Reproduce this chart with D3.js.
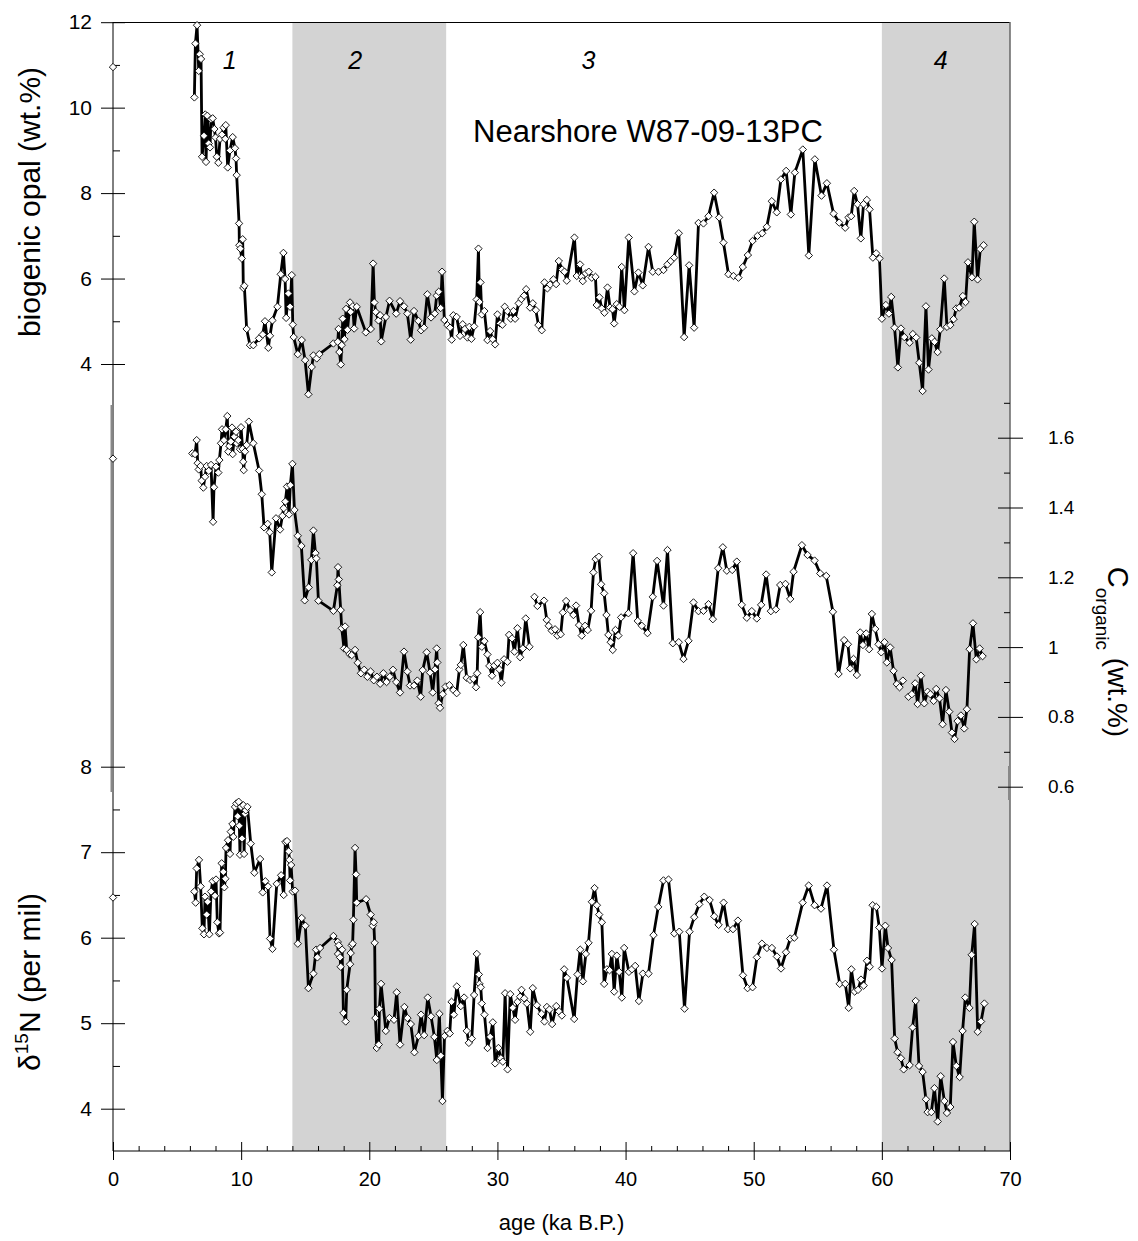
<!DOCTYPE html>
<html>
<head>
<meta charset="utf-8">
<script src="https://cdnjs.cloudflare.com/ajax/libs/d3/7.8.5/d3.min.js"></script>
<style>
  body { margin: 0; background: #fff; }
  text { font-family: "Liberation Sans", Arial, Helvetica, sans-serif; }
</style>
</head>
<body>
<svg id="chart" width="1138" height="1241"></svg>
<script>
// ---- data (age in ka B.P., value) ----
// null values break the line
const opalTop = [[0, 10.95]];
const opal = [
  [6.35,10.24],[6.43,11.50],[6.56,11.93],[6.69,10.86],[6.77,11.25],[6.87,11.14],[6.95,8.85],[7.10,9.34],
  [7.20,9.84],[7.26,8.73],[7.36,9.81],[7.47,9.16],[7.57,9.07],[7.65,9.73],[7.78,9.75],[7.91,9.50],
  [8.00,9.30],[8.10,8.85],[8.22,8.71],[8.35,9.27],[8.50,9.37],[8.63,9.53],[8.76,9.27],[8.80,9.59],
  [8.95,8.60],[9.13,9.00],[9.34,9.31],[9.52,9.05],[9.60,8.81],[9.65,8.42],[9.84,7.29],[9.86,6.78],
  [9.94,6.70],[10.05,6.47],[10.12,6.92],[10.17,5.78],[10.25,5.83],[10.43,4.82],[10.69,4.44],[10.95,4.44],
  [11.40,4.60],[11.68,4.69],[11.86,5.00],[12.12,4.38],[12.25,4.66],[12.44,5.02],[12.83,5.34],[13.09,6.10],
  [13.30,6.60],[13.43,5.99],[13.51,5.08],[13.69,5.65],[13.82,5.34],[13.95,6.08],[14.03,4.92],[14.10,4.63],
  [14.42,4.23],[14.73,4.56],[14.99,4.09],[15.25,3.29],[15.51,3.93],[15.64,4.20],[15.90,4.13],[16.10,4.23],
  [17.20,4.48],[17.54,4.52],[17.60,4.82],[17.67,4.28],[17.78,3.99],[17.85,4.44],[17.93,5.06],[18.06,4.58],
  [18.19,5.29],[18.30,4.80],[18.50,5.44],[18.55,5.22],[18.71,5.35],[18.82,4.83],[19.02,5.34],[19.73,4.74],
  [20.12,4.82],[20.30,6.35],[20.40,5.44],[20.50,5.22],[20.72,5.02],[20.85,5.14],[20.93,4.53],[21.30,5.10],
  [21.58,5.48],[22.10,5.18],[22.40,5.47],[22.71,5.35],[22.97,5.18],[23.23,4.57],[23.49,5.24],[23.83,5.01],
  [24.04,4.79],[24.27,4.85],[24.53,5.63],[24.82,5.09],[25.11,5.18],[25.26,5.60],[25.42,5.69],[25.57,5.31],
  [25.68,6.16],[25.86,5.03],[26.10,4.91],[26.30,4.85],[26.43,4.57],[26.56,5.14],[26.82,5.10],[27.08,4.66],
  [27.29,4.93],[27.47,4.82],[27.66,4.62],[27.81,4.87],[27.97,4.59],[28.18,4.88],[28.38,5.51],[28.52,6.70],
  [28.60,5.45],[28.68,5.91],[28.78,5.16],[28.98,5.24],[29.22,4.56],[29.43,4.77],[29.63,4.58],[29.82,4.46],
  [30.00,5.16],[30.21,4.95],[30.39,4.92],[30.57,5.34],[30.78,5.24],[31.04,5.06],[31.25,5.24],[31.38,5.06],
  [31.66,5.42],[31.87,5.52],[32.08,5.60],[32.24,5.75],[32.55,5.32],[32.76,5.42],[33.00,5.26],[33.20,4.91],
  [33.46,4.79],[33.67,5.91],[33.90,5.77],[34.11,5.86],[34.37,5.98],[34.58,5.87],[34.79,6.41],[35.05,6.21],
  [35.23,6.16],[35.41,5.95],[36.01,6.96],[36.19,6.06],[36.45,6.33],[36.58,6.04],[36.66,5.94],[36.89,6.12],
  [37.13,6.16],[37.36,6.02],[37.65,6.04],[37.75,5.38],[37.96,5.56],[38.14,5.30],[38.35,5.20],[38.59,5.79],
  [38.79,5.32],[38.98,5.28],[39.11,4.95],[39.31,5.40],[39.52,5.34],[39.70,6.27],[39.91,5.26],[40.25,6.96],
  [40.69,5.70],[41.00,6.14],[41.34,5.84],[41.79,6.74],[42.12,6.16],[42.57,6.16],[42.96,6.20],[43.27,6.33],
  [43.53,6.41],[43.79,6.49],[44.15,7.06],[44.57,4.63],[44.96,6.31],[45.35,4.85],[45.69,7.30],[46.08,7.29],
  [46.47,7.46],[46.91,8.01],[47.30,7.43],[47.64,6.84],[48.03,6.10],[48.42,6.06],[48.81,6.02],[49.15,6.27],
  [49.54,6.55],[49.91,6.88],[50.30,7.00],[50.66,7.06],[51.02,7.21],[51.41,7.81],[51.80,7.55],[52.12,8.32],
  [52.53,8.52],[52.90,7.50],[53.21,8.48],[53.83,9.02],[54.30,6.54],[54.77,8.79],[55.29,7.94],[55.71,8.23],
  [56.23,7.52],[56.67,7.31],[57.14,7.19],[57.40,7.43],[57.61,7.46],[57.84,8.05],[58.10,7.74],[58.36,6.94],
  [58.57,7.74],[58.83,7.84],[59.04,7.62],[59.30,6.49],[59.56,6.59],[59.82,6.47],[60.00,5.06],[60.31,5.38],
  [60.55,5.18],[60.73,5.57],[60.99,4.85],[61.25,3.92],[61.49,4.83],[61.75,4.63],[62.16,4.50],[62.42,4.70],
  [62.68,4.62],[62.92,4.03],[63.18,3.37],[63.44,5.35],[63.64,3.87],[63.90,4.60],[64.11,4.52],[64.35,4.28],
  [64.56,4.81],[64.87,6.00],[65.08,4.87],[65.34,4.91],[65.60,5.05],[65.80,5.30],[66.04,5.32],[66.32,5.59],
  [66.53,5.45],[66.72,6.38],[67.03,6.03],[67.21,7.33],[67.47,5.98],[67.68,6.69],[67.94,6.78]
];

const corgTop = [[0, 1.54]];
const corg = [
  [6.19,1.555],[6.40,1.553],[6.53,1.593],[6.61,1.527],[6.69,1.509],[6.84,1.519],[6.92,1.477],[7.05,1.457],
  [7.18,1.488],[7.31,1.519],[7.47,1.505],[7.65,1.522],[7.81,1.359],[7.88,1.458],[8.04,1.517],[8.22,1.500],
  [8.30,1.536],[8.43,1.584],[8.51,1.624],[8.66,1.593],[8.80,1.624],[8.92,1.662],[9.00,1.560],[9.08,1.576],
  [9.19,1.589],[9.29,1.629],[9.34,1.553],[9.47,1.603],[9.60,1.617],[9.65,1.584],[9.78,1.593],[9.91,1.567],
  [9.99,1.630],[10.12,1.568],[10.16,1.531],[10.20,1.507],[10.30,1.560],[10.43,1.579],[10.60,1.646],[10.95,1.584],
  [11.40,1.506],[11.61,1.438],[11.79,1.343],[12.07,1.353],[12.23,1.329],[12.39,1.214],[12.72,1.369],[13.04,1.337],
  [13.22,1.376],[13.32,1.398],[13.45,1.417],[13.58,1.460],[13.74,1.380],[13.84,1.464],[14.00,1.525],[14.16,1.393],
  [14.42,1.319],[14.70,1.290],[14.96,1.134],[15.27,1.171],[15.48,1.250],[15.64,1.334],[15.80,1.269],[15.87,1.254],
  [16.03,1.133],[17.20,1.104],[17.51,1.177],[17.56,1.229],[17.62,1.194],[17.77,1.106],[17.85,1.054],[18.03,0.996],
  [18.11,1.059],[18.24,0.992],[18.45,0.980],[18.63,0.977],[18.89,0.992],[19.10,0.955],[19.35,0.925],[19.60,0.935],
  [19.85,0.915],[20.10,0.930],[20.35,0.905],[20.60,0.915],[20.85,0.895],[21.10,0.925],[21.35,0.900],[21.60,0.915],
  [21.85,0.935],[22.10,0.900],[22.40,0.870],[22.71,0.987],[22.97,0.930],[23.18,0.890],[23.49,0.890],[23.75,0.904],
  [24.01,0.858],[24.17,0.934],[24.48,0.985],[24.74,0.927],[24.95,0.870],[25.13,0.936],[25.26,0.996],[25.31,0.956],
  [25.42,0.839],[25.52,0.826],[25.73,0.865],[25.96,0.887],[26.25,0.891],[26.56,0.877],[26.82,0.868],[27.03,0.936],
  [27.14,0.949],[27.34,1.006],[27.60,0.912],[27.86,0.906],[28.12,0.909],[28.33,0.885],[28.42,0.925],[28.50,1.028],
  [28.65,1.100],[28.78,1.001],[28.98,1.017],[29.22,0.979],[29.37,0.946],[29.58,0.918],[29.76,0.947],[30.00,0.955],
  [30.15,0.936],[30.31,0.898],[30.52,0.965],[30.78,0.958],[30.91,1.035],[31.14,1.025],[31.33,0.987],[31.56,1.054],
  [31.77,0.971],[31.98,0.996],[32.21,1.082],[32.50,1.001],[32.70,null],
  [32.89,1.144],[33.12,1.118],[33.64,1.133],[33.85,1.078],[34.00,1.061],[34.24,1.047],[34.50,1.051],[34.68,1.033],
  [34.94,1.037],[35.10,1.099],[35.36,1.132],[35.67,1.106],[35.93,1.092],[36.14,1.119],[36.37,1.063],[36.58,1.033],
  [36.84,1.061],[37.05,1.049],[37.31,1.104],[37.49,1.214],[37.67,1.252],[37.91,1.259],[38.09,1.180],[38.33,1.154],
  [38.51,1.092],[38.66,1.035],[38.84,1.014],[39.00,0.992],[39.21,1.049],[39.44,1.033],[39.65,1.085],[40.22,1.097],
  [40.59,1.269],[40.95,1.075],[41.27,1.061],[41.71,1.040],[42.12,1.144],[42.46,1.247],[42.96,1.119],[43.27,1.278],
  [43.69,1.011],[44.15,1.014],[44.52,0.966],[44.91,1.018],[45.30,1.128],[45.69,1.103],[46.08,1.104],[46.47,1.123],
  [46.81,1.080],[47.23,1.226],[47.59,1.286],[47.90,1.219],[48.32,1.221],[48.68,1.245],[49.07,1.121],[49.46,1.084],
  [49.85,1.103],[50.24,1.082],[50.58,1.121],[50.97,1.208],[51.34,1.103],[51.73,1.108],[52.07,1.178],[52.48,1.181],
  [52.85,1.138],[53.11,1.216],[53.76,1.292],[54.20,1.264],[54.75,1.248],[55.19,1.211],[55.66,1.204],[56.18,1.101],
  [56.62,0.923],[57.06,1.020],[57.35,1.008],[57.53,0.939],[57.79,0.966],[58.05,0.920],[58.31,1.042],[58.52,1.006],
  [58.78,1.039],[59.01,0.994],[59.22,1.095],[59.48,1.052],[59.74,1.008],[59.95,0.985],[60.21,1.014],[60.39,0.956],
  [60.65,0.999],[60.91,0.932],[61.17,0.894],[61.38,0.885],[61.64,0.904],[61.86,null],
  [62.08,0.858],[62.34,0.865],[62.60,0.896],[62.79,0.837],[63.05,0.918],[63.31,0.839],[63.57,0.872],[63.78,0.865],
  [64.04,0.846],[64.24,0.880],[64.50,0.853],[64.74,0.779],[65.00,0.877],[65.26,0.815],[65.47,0.755],[65.67,0.737],
  [65.91,0.788],[66.17,0.804],[66.43,0.767],[66.64,0.822],[66.85,0.994],[67.11,1.068],[67.37,0.965],[67.63,0.996],
  [67.86,0.974]
];

const d15nTop = [[0, 6.47]];
const d15n = [
  [6.35,6.54],[6.45,6.41],[6.53,6.81],[6.71,6.91],[6.84,6.60],[6.97,6.11],[7.10,6.04],[7.18,6.48],
  [7.31,6.27],[7.39,6.42],[7.52,6.04],[7.65,6.54],[7.78,6.66],[7.96,6.49],[8.04,6.68],[8.14,6.18],
  [8.27,6.05],[8.35,6.06],[8.48,6.87],[8.61,6.77],[8.69,6.59],[8.77,6.69],[8.82,7.05],[8.98,7.14],
  [9.13,6.98],[9.19,7.24],[9.32,7.33],[9.39,7.18],[9.52,7.53],[9.63,7.57],[9.73,7.42],[9.81,7.59],
  [9.86,7.31],[9.91,6.97],[9.99,7.53],[10.07,7.16],[10.17,7.55],[10.23,6.98],[10.30,7.45],[10.36,7.49],
  [10.49,7.53],[10.75,7.10],[11.03,6.76],[11.48,6.92],[11.68,6.53],[11.89,6.66],[12.10,6.60],[12.26,5.99],
  [12.44,5.87],[12.78,6.63],[13.12,6.73],[13.32,6.50],[13.45,7.12],[13.58,7.13],[13.71,7.01],[13.77,6.91],
  [13.82,6.67],[13.90,6.85],[14.02,6.54],[14.21,6.55],[14.42,5.93],[14.73,6.23],[15.01,6.14],[15.25,5.41],
  [15.64,5.58],[15.85,5.86],[15.95,5.77],[16.16,5.88],[17.20,6.02],[17.54,5.95],[17.56,5.81],[17.62,5.91],
  [17.72,5.77],[17.77,5.66],[17.88,5.86],[17.98,5.12],[18.16,5.02],[18.24,5.39],[18.50,5.69],[18.55,5.82],
  [18.63,5.91],[18.70,5.93],[18.76,6.21],[18.89,7.05],[18.97,6.74],[19.02,6.41],[19.75,6.45],[20.11,6.27],
  [20.27,6.14],[20.35,6.18],[20.42,5.94],[20.48,5.06],[20.58,4.71],[20.74,4.75],[20.79,5.17],[20.92,5.46],
  [21.29,4.91],[21.57,5.06],[21.93,5.04],[22.14,5.36],[22.40,4.75],[22.74,5.19],[22.98,5.06],[23.24,4.99],
  [23.52,4.66],[23.84,4.85],[24.04,5.10],[24.28,4.86],[24.56,5.30],[24.82,5.08],[25.08,4.84],[25.27,4.57],
  [25.47,5.11],[25.58,4.62],[25.71,4.09],[25.87,4.85],[26.10,4.91],[26.28,4.88],[26.42,5.25],[26.60,5.10],
  [26.83,5.43],[27.14,5.20],[27.40,5.30],[27.61,4.91],[27.77,4.77],[28.00,4.82],[28.18,5.33],[28.39,5.81],
  [28.55,5.57],[28.60,5.46],[28.70,5.42],[28.78,5.23],[28.99,5.10],[29.23,4.71],[29.43,4.84],[29.64,5.01],
  [29.82,4.53],[30.08,4.71],[30.27,4.59],[30.42,4.55],[30.60,5.35],[30.79,4.46],[31.00,5.34],[31.20,5.18],
  [31.38,5.04],[31.57,5.25],[31.77,5.31],[31.88,5.39],[32.09,5.29],[32.30,5.23],[32.56,4.90],[32.76,5.41],
  [33.08,5.21],[33.44,5.11],[33.67,5.02],[33.86,5.19],[34.06,5.16],[34.27,4.99],[34.59,5.20],[34.80,5.14],
  [35.03,5.09],[35.21,5.63],[35.42,5.53],[35.99,5.05],[36.25,5.57],[36.46,5.86],[36.67,5.49],[36.90,5.81],
  [37.11,5.94],[37.37,6.42],[37.58,6.58],[37.76,6.38],[37.94,6.27],[38.15,6.18],[38.33,5.46],[38.54,5.63],
  [38.75,5.62],[38.93,5.81],[39.11,5.37],[39.32,5.79],[39.50,5.60],[39.71,5.30],[39.89,5.88],[40.26,5.60],
  [40.49,5.63],[40.75,5.67],[41.04,5.26],[41.35,5.58],[41.79,5.58],[42.18,6.03],[42.55,6.36],[42.96,6.67],
  [43.35,6.68],[43.80,6.05],[44.19,6.07],[44.60,5.17],[44.99,6.07],[45.36,6.24],[45.75,6.39],[46.14,6.48],
  [46.56,6.44],[46.92,6.25],[47.26,6.15],[47.65,6.41],[47.99,6.10],[48.38,6.10],[48.77,6.20],[49.16,5.56],
  [49.52,5.41],[49.91,5.42],[50.25,5.77],[50.64,5.93],[51.03,5.88],[51.42,5.88],[51.81,5.78],[52.13,5.64],
  [52.52,5.83],[52.85,5.99],[53.17,6.00],[53.82,6.41],[54.29,6.61],[54.75,6.38],[55.25,6.34],[55.72,6.61],
  [56.26,5.86],[56.71,5.46],[57.15,5.46],[57.41,5.18],[57.62,5.63],[57.88,5.37],[58.14,5.39],[58.37,5.51],
  [58.58,5.44],[58.84,5.73],[59.05,5.66],[59.28,6.38],[59.57,6.36],[59.80,6.12],[60.01,5.64],[60.27,6.14],
  [60.48,5.88],[60.76,5.74],[61.00,4.82],[61.23,4.66],[61.49,4.59],[61.70,4.46],[62.17,4.51],[62.40,4.95],
  [62.64,5.26],[62.90,4.50],[63.18,4.43],[63.44,4.11],[63.57,3.96],[63.86,3.96],[64.10,4.24],[64.36,3.85],
  [64.59,4.38],[64.88,4.09],[65.08,3.95],[65.34,4.02],[65.55,4.78],[65.81,4.50],[66.07,4.37],[66.30,4.91],
  [66.51,5.30],[66.83,5.18],[67.01,5.80],[67.24,6.16],[67.48,4.90],[67.74,5.02],[68.00,5.23]
];

// shaded stages and their labels
const stageBands = [[14, 26], [60, 70]];
const stageLabels = [["1", 9.1], ["2", 18.9], ["3", 37.1], ["4", 64.6]];

const xTicks = [0, 10, 20, 30, 40, 50, 60, 70];
const opalTicks = [4, 6, 8, 10, 12];
const corgTicks = [0.6, 0.8, 1, 1.2, 1.4, 1.6];
const d15nTicks = [4, 5, 6, 7, 8];

// ---- layout ----
const svg = d3.select("#chart");
const plotL = 113, plotR = 1010, plotT = 22, plotB = 1151;

const x = d3.scaleLinear().domain([0, 70]).range([plotL, plotR]);
const yOpal = d3.scaleLinear().domain([4, 12]).range([364, 22.2]);
const yCorg = d3.scaleLinear().domain([0.6, 1.6]).range([786.7, 437.7]);
const yN = d3.scaleLinear().domain([4, 8]).range([1108.7, 766.7]);

// grey stage bands
svg.selectAll("rect.band")
  .data(stageBands)
  .enter()
  .append("rect")
  .attr("class", "band")
  .attr("x", d => x(d[0]))
  .attr("width", d => x(d[1]) - x(d[0]))
  .attr("y", plotT)
  .attr("height", plotB - plotT)
  .attr("fill", "#d3d3d3");

// frame
const frame = svg.append("g").attr("stroke", "#000").attr("fill", "none");
frame.append("line").attr("x1", plotL).attr("x2", plotR).attr("y1", plotT + 0.5).attr("y2", plotT + 0.5);
frame.append("line").attr("x1", plotL).attr("x2", plotL).attr("y1", plotT).attr("y2", plotB);
frame.append("line").attr("x1", plotR).attr("x2", plotR).attr("y1", plotT).attr("y2", plotB)
  .attr("stroke", "#666").attr("stroke-width", 1.5);
frame.append("line").attr("x1", plotL).attr("x2", plotR).attr("y1", plotB).attr("y2", plotB);
// overlapping axis pieces of the middle panel
frame.append("line").attr("x1", plotL - 1.5).attr("x2", plotL - 1.5).attr("y1", 405).attr("y2", 792)
  .attr("stroke", "#888").attr("stroke-width", 2);
frame.append("line").attr("x1", plotR - 1).attr("x2", plotR - 1).attr("y1", 766).attr("y2", 800)
  .attr("stroke", "#888").attr("stroke-width", 2);

function styleAxis(g, size) {
  g.select(".domain").remove();
  g.selectAll(".tick line").attr("stroke", "#000");
  g.selectAll("text").attr("font-size", size).attr("fill", "#000")
    .attr("font-family", "'Liberation Sans', Arial, sans-serif");
}

// left axes (major ticks cross the axis line)
function leftAxis(scale, major, minor) {
  svg.append("g")
    .attr("transform", `translate(${plotL},0)`)
    .call(d3.axisLeft(scale).tickValues(major).tickSize(12).tickPadding(9).tickFormat(d3.format("d")))
    .call(g => styleAxis(g, 21))
    .call(g => g.selectAll(".tick line").attr("x1", 12));
  svg.append("g")
    .attr("transform", `translate(${plotL},0)`)
    .call(d3.axisLeft(scale).tickValues(minor).tickSize(-7).tickFormat(""))
    .call(g => styleAxis(g, 21));
}
leftAxis(yOpal, opalTicks, [5, 7, 9, 11]);
leftAxis(yN, d15nTicks, [4.5, 5.5, 6.5, 7.5]);

// right axis for C organic
svg.append("g")
  .attr("transform", `translate(${plotR},0)`)
  .call(d3.axisRight(yCorg).tickValues(corgTicks).tickSize(13).tickPadding(25)
    .tickFormat(d => String(+d.toFixed(1))))
  .call(g => styleAxis(g, 19))
  .call(g => g.selectAll(".tick line").attr("x1", -12));
svg.append("g")
  .attr("transform", `translate(${plotR},0)`)
  .call(d3.axisRight(yCorg).tickValues([0.7, 0.9, 1.1, 1.3, 1.5, 1.7]).tickSize(-6).tickFormat(""))
  .call(g => styleAxis(g, 19));

// bottom axis
svg.append("g")
  .attr("transform", `translate(0,${plotB})`)
  .call(d3.axisBottom(x).tickValues(xTicks).tickSize(9).tickPadding(12))
  .call(g => styleAxis(g, 20))
  .call(g => g.selectAll(".tick line").attr("y1", -9));
svg.append("g")
  .attr("transform", `translate(0,${plotB})`)
  .call(d3.axisBottom(x).tickValues(d3.range(2, 70, 2).filter(v => v % 10 !== 0)).tickSize(-5).tickFormat(""))
  .call(g => styleAxis(g, 20));

// ---- series ----
const diamond = "M0,-3.7L3.7,0L0,3.7L-3.7,0Z";

function drawSeries(data, extra, y) {
  const line = d3.line()
    .defined(d => d[1] !== null)
    .x(d => x(d[0]))
    .y(d => y(d[1]));
  svg.append("path")
    .datum(data)
    .attr("d", line)
    .attr("fill", "none")
    .attr("stroke", "#000")
    .attr("stroke-width", 2.8)
    .attr("stroke-linejoin", "round");
  const pts = data.filter(d => d[1] !== null).concat(extra);
  svg.append("g")
    .selectAll("path")
    .data(pts)
    .enter()
    .append("path")
    .attr("d", diamond)
    .attr("transform", d => `translate(${x(d[0])},${y(d[1])})`)
    .attr("fill", "#fff")
    .attr("stroke", "#000")
    .attr("stroke-width", 0.9);
}
drawSeries(opal, opalTop, yOpal);
drawSeries(corg, corgTop, yCorg);
drawSeries(d15n, d15nTop, yN);

// ---- text ----
svg.selectAll("text.stage")
  .data(stageLabels)
  .enter()
  .append("text")
  .attr("class", "stage")
  .attr("x", d => x(d[1]))
  .attr("y", 69)
  .attr("text-anchor", "middle")
  .attr("font-size", 25)
  .attr("font-style", "italic")
  .text(d => d[0]);

svg.append("text")
  .attr("x", 648).attr("y", 142)
  .attr("text-anchor", "middle")
  .attr("font-size", 31)
  .text("Nearshore W87-09-13PC");

svg.append("text")
  .attr("x", (plotL + plotR) / 2).attr("y", 1230)
  .attr("text-anchor", "middle")
  .attr("font-size", 22)
  .text("age (ka B.P.)");

svg.append("text")
  .attr("transform", "translate(40,202) rotate(-90)")
  .attr("text-anchor", "middle")
  .attr("font-size", 30)
  .text("biogenic opal (wt.%)");

const nLabel = svg.append("text")
  .attr("transform", "translate(40,982) rotate(-90)")
  .attr("text-anchor", "middle")
  .attr("font-size", 30);
nLabel.append("tspan").text("\u03B4");
nLabel.append("tspan").attr("font-size", 19).attr("dy", -12).text("15");
nLabel.append("tspan").attr("dy", 12).text("N (per mil)");

const cLabel = svg.append("text")
  .attr("transform", "translate(1108,652) rotate(90)")
  .attr("text-anchor", "middle")
  .attr("font-size", 29);
cLabel.append("tspan").text("C");
cLabel.append("tspan").attr("font-size", 19).attr("dy", 12).text("organic");
cLabel.append("tspan").attr("dy", -12).attr("font-size", 28).text(" (wt.%)");
</script>
</body>
</html>
